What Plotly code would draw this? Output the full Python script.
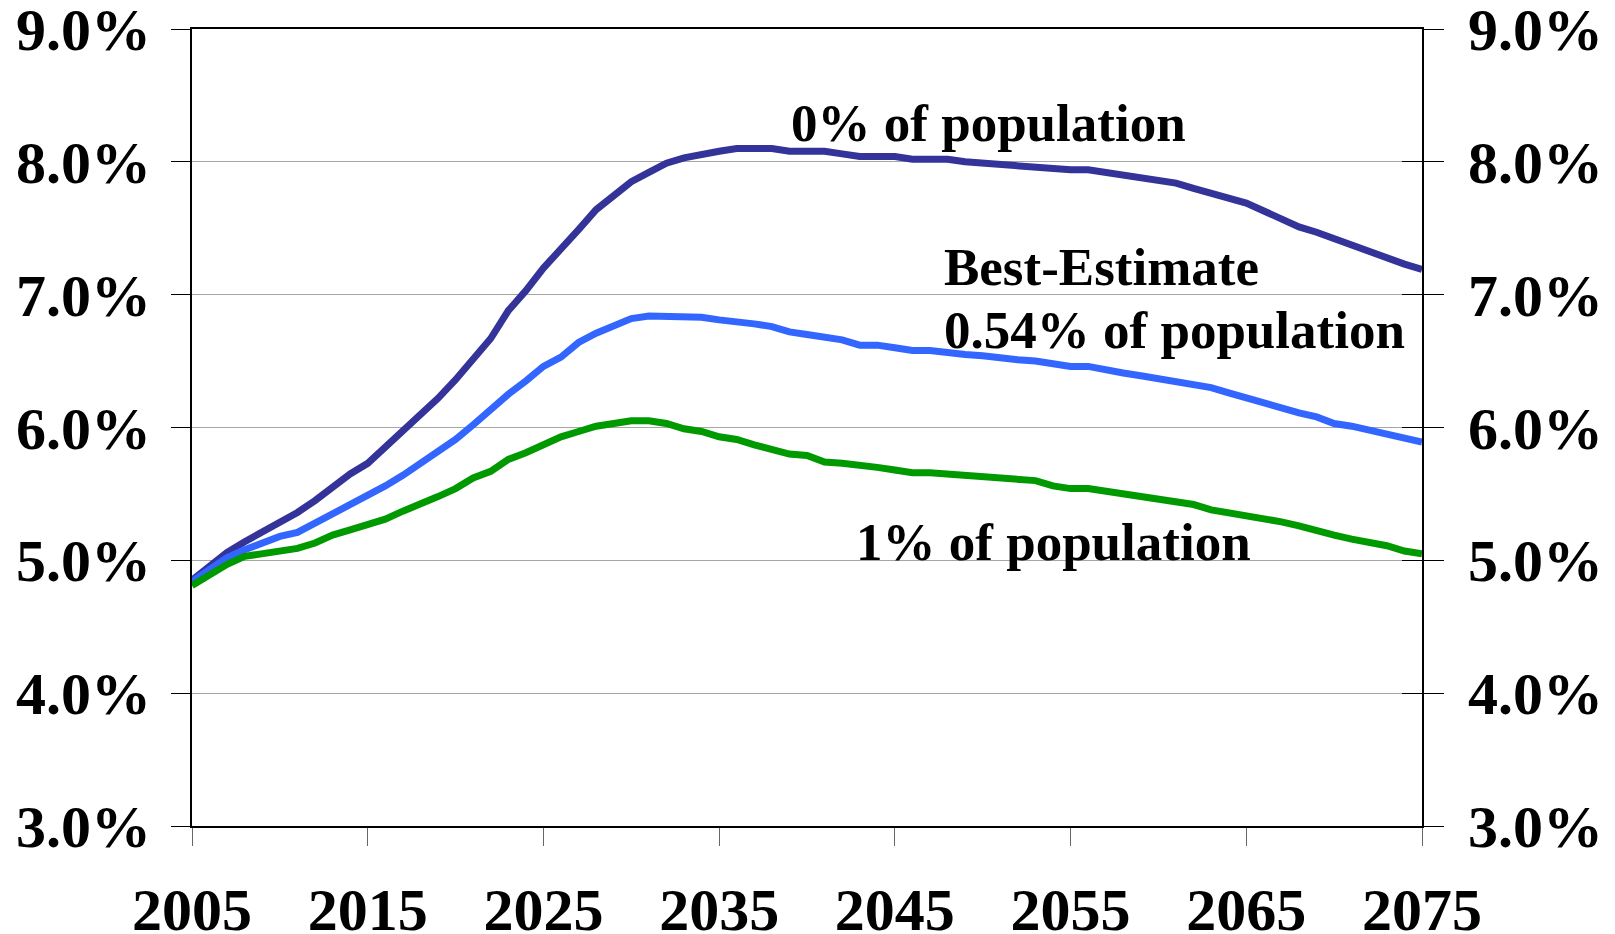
import plotly.graph_objects as go

years = list(range(2005, 2076))

zero_pct = [4.85, 4.96, 5.06, 5.14, 5.21, 5.28, 5.36, 5.45, 5.55, 5.65,
            5.73, 5.85, 5.98, 6.09, 6.22, 6.36, 6.51, 6.67, 6.88, 7.03,
            7.20, 7.34, 7.49, 7.64, 7.75, 7.85, 7.92, 7.99, 8.03, 8.06,
            8.08, 8.10, 8.10, 8.10, 8.08, 8.08, 8.08, 8.06, 8.04, 8.04,
            8.04, 8.02, 8.02, 8.02, 8.00, 7.99, 7.98, 7.97, 7.96, 7.94,
            7.94, 7.94, 7.92, 7.90, 7.88, 7.86, 7.84, 7.80, 7.76, 7.72,
            7.69, 7.63, 7.57, 7.51, 7.47, 7.42, 7.38, 7.32, 7.27, 7.23,
            7.19]

best_est = [4.84, 4.93, 5.02, 5.08, 5.13, 5.18, 5.21, 5.28, 5.34, 5.42,
            5.48, 5.56, 5.64, 5.73, 5.81, 5.91, 6.02, 6.14, 6.25, 6.35,
            6.46, 6.53, 6.64, 6.71, 6.76, 6.82, 6.84, 6.84, 6.84, 6.83,
            6.81, 6.80, 6.78, 6.76, 6.72, 6.70, 6.68, 6.66, 6.62, 6.62,
            6.60, 6.58, 6.58, 6.56, 6.55, 6.54, 6.52, 6.51, 6.50, 6.48,
            6.46, 6.46, 6.43, 6.41, 6.39, 6.37, 6.35, 6.32, 6.30, 6.26,
            6.22, 6.18, 6.14, 6.11, 6.08, 6.03, 6.01, 5.98, 5.94, 5.92,
            5.89]

one_pct = [4.81, 4.89, 4.97, 5.03, 5.05, 5.07, 5.09, 5.13, 5.19, 5.23,
           5.27, 5.31, 5.37, 5.42, 5.48, 5.54, 5.62, 5.67, 5.76, 5.81,
           5.87, 5.93, 5.97, 6.01, 6.03, 6.05, 6.05, 6.03, 5.99, 5.97,
           5.93, 5.91, 5.87, 5.83, 5.80, 5.79, 5.74, 5.73, 5.72, 5.70,
           5.68, 5.66, 5.66, 5.65, 5.64, 5.64, 5.63, 5.62, 5.60, 5.56,
           5.54, 5.54, 5.52, 5.49, 5.47, 5.46, 5.44, 5.42, 5.38, 5.36,
           5.34, 5.31, 5.29, 5.26, 5.22, 5.19, 5.16, 5.14, 5.11, 5.07,
           5.05]

x_ticks = [2005, 2015, 2025, 2035, 2045, 2055, 2065, 2075]
y_ticks = [3, 4, 5, 6, 7, 8, 9]
y_ticktext = ["3.0%", "4.0%", "5.0%", "6.0%", "7.0%", "8.0%", "9.0%"]

labels = ["0% of population", "Best-Estimate", "0.54% of population", "1% of population"]
label_x = [2039.0, 2047.7, 2047.7, 2042.7]
label_y = [8.29, 7.21, 6.735, 5.14]

FONT = "Liberation Serif, Times New Roman, serif"

fig = go.Figure()
fig.add_trace(go.Scatter(x=years, y=zero_pct, mode="lines",
                         line=dict(color="#333399", width=7), showlegend=False))
fig.add_trace(go.Scatter(x=years, y=best_est, mode="lines",
                         line=dict(color="#3366FF", width=7), showlegend=False))
fig.add_trace(go.Scatter(x=years, y=one_pct, mode="lines",
                         line=dict(color="#009900", width=7), showlegend=False))
# invisible traces to activate secondary y axes
fig.add_trace(go.Scatter(x=[years[0]], y=[zero_pct[0]], yaxis="y2", mode="markers",
                         marker=dict(opacity=0), showlegend=False, hoverinfo="skip"))
fig.add_trace(go.Scatter(x=[years[0]], y=[zero_pct[0]], yaxis="y3", mode="markers",
                         marker=dict(opacity=0), showlegend=False, hoverinfo="skip"))

for t, xx, yy in zip(labels, label_x, label_y):
    fig.add_annotation(x=xx, y=yy, xref="x", yref="y", text="<b>%s</b>" % t,
                       showarrow=False, xanchor="left", yanchor="middle",
                       font=dict(family=FONT, size=53, color="black"))

tickfont = dict(family=FONT, size=60, color="black")

fig.update_layout(
    width=1615, height=934,
    margin=dict(l=192, r=193, t=29, b=108, autoexpand=False),
    paper_bgcolor="white", plot_bgcolor="white",
    font=dict(family=FONT),
    xaxis=dict(range=[2005, 2075], tickvals=x_ticks,
               ticktext=["<b>%d</b>" % v for v in x_ticks],
               showgrid=False, zeroline=False, automargin=False,
               showline=True, linecolor="black", linewidth=2, mirror=True,
               ticks="outside", ticklen=18, tickcolor="#666666", tickwidth=1,
               tickfont=tickfont, ticklabelstandoff=12, ticklabeloverflow="allow"),
    yaxis=dict(range=[3, 9], tickvals=y_ticks,
               ticktext=["<b>%s</b>" % s for s in y_ticktext],
               showgrid=True, gridcolor="#A6A6A6", gridwidth=1, zeroline=False,
               showline=True, linecolor="black", linewidth=2, automargin=False,
               ticks="outside", ticklen=19, tickcolor="black", tickwidth=1,
               tickfont=tickfont, ticklabelstandoff=8, ticklabeloverflow="allow"),
    yaxis2=dict(range=[3, 9], tickvals=y_ticks,
                ticktext=["<b>%s</b>" % s for s in y_ticktext],
                overlaying="y", side="right", showgrid=False, zeroline=False,
                showline=True, linecolor="black", linewidth=2, automargin=False,
                ticks="outside", ticklen=20, tickcolor="black", tickwidth=1,
                tickfont=tickfont, ticklabelstandoff=12, ticklabeloverflow="allow"),
    yaxis3=dict(range=[3, 9], tickvals=y_ticks, overlaying="y", side="right",
                showgrid=False, zeroline=False, showline=False, automargin=False,
                ticks="inside", ticklen=20, tickcolor="black", tickwidth=1,
                showticklabels=False),
)

fig.write_html("out.html", config={"displayModeBar": False},
               post_script="document.body.style.margin='0';document.body.style.overflow='hidden';")
